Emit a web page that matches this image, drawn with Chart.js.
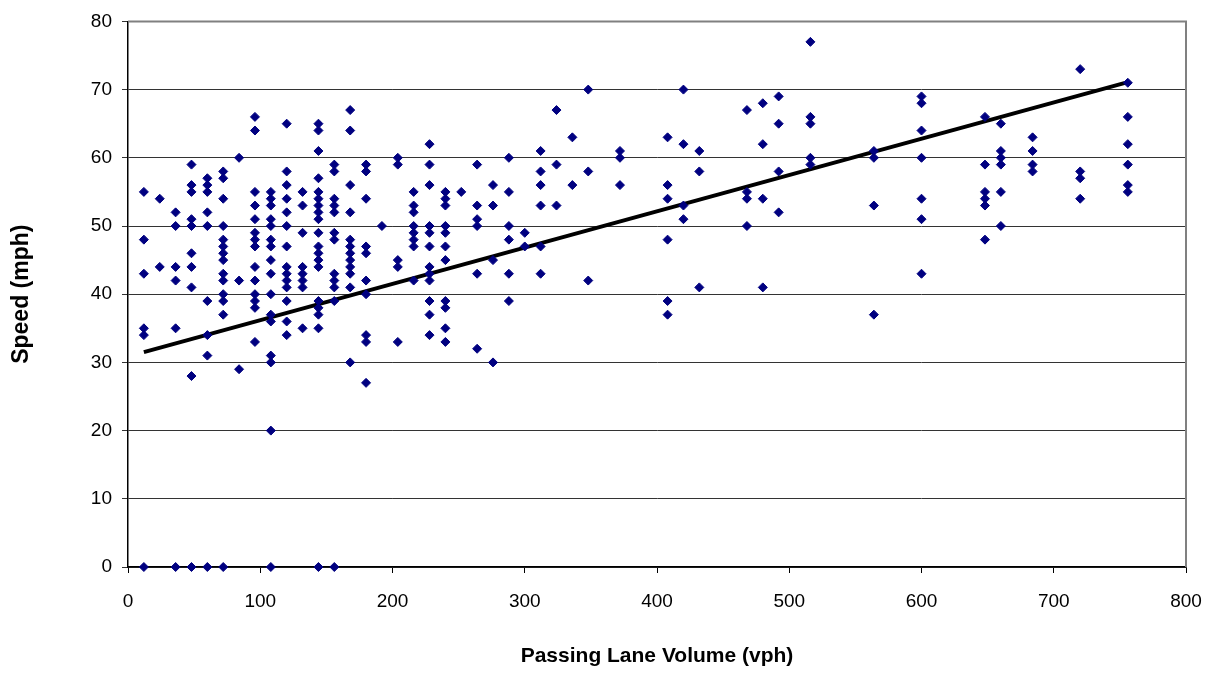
<!DOCTYPE html>
<html>
<head>
<meta charset="utf-8">
<script src="https://cdn.jsdelivr.net/npm/chart.js@4.4.0/dist/chart.umd.min.js"></script>
<style>
  body { margin: 0; background: #fff; }
  #wrap { width: 1212px; height: 673px; }
</style>
</head>
<body>
<div id="wrap"><canvas id="canvas" width="1212" height="673"></canvas></div>
<script>
// passing lane volume levels (vph) and the speeds (mph) observed at each
const volumes = [12, 24, 36, 48, 60, 72, 84, 96, 108, 120, 132, 144, 156, 168, 180, 192,
  204, 216, 228, 240, 252, 264, 276, 288, 300, 312, 324, 336, 348, 372, 408, 420, 432,
  468, 480, 492, 516, 564, 600, 648, 660, 684, 720, 756];
const speeds = [
  [55, 48, 43, 35, 34, 0],
  [54, 44],
  [52, 50, 44, 42, 35, 0],
  [59, 56, 55, 51, 50, 46, 44, 41, 28, 0],
  [57, 56, 55, 52, 50, 39, 34, 31, 0],
  [58, 57, 54, 50, 48, 47, 46, 45, 43, 42, 40, 39, 37, 0],
  [60, 42, 29],
  [66, 64, 55, 53, 51, 49, 48, 47, 44, 42, 40, 39, 38, 33],
  [55, 54, 53, 51, 50, 48, 47, 45, 43, 40, 37, 36, 31, 30, 20, 0],
  [65, 58, 56, 54, 52, 50, 47, 44, 43, 42, 41, 39, 36, 34],
  [55, 53, 49, 44, 43, 42, 41, 35],
  [65, 64, 61, 57, 55, 54, 53, 52, 51, 49, 47, 46, 45, 44, 39, 38, 37, 35, 0],
  [59, 58, 54, 53, 52, 49, 48, 43, 42, 41, 39, 0],
  [67, 64, 56, 52, 48, 47, 46, 45, 44, 43, 41, 30],
  [59, 58, 54, 47, 46, 42, 40, 34, 33, 27],
  [50],
  [60, 59, 45, 44, 33],
  [55, 53, 52, 50, 49, 48, 47, 42],
  [62, 59, 56, 50, 49, 47, 44, 43, 42, 39, 37, 34],
  [55, 54, 53, 50, 49, 47, 45, 39, 38, 35, 33],
  [55],
  [59, 53, 51, 50, 43, 32],
  [56, 53, 45, 30],
  [60, 55, 50, 48, 43, 39],
  [49, 47],
  [61, 58, 56, 53, 47, 43],
  [67, 59, 53],
  [63, 56],
  [70, 58, 42],
  [61, 60, 56],
  [63, 56, 54, 48, 39, 37],
  [70, 62, 53, 51],
  [61, 58, 41],
  [67, 55, 54, 50],
  [68, 62, 54, 41],
  [69, 65, 58, 52],
  [77, 66, 65, 60, 59],
  [61, 60, 53, 37],
  [69, 68, 64, 60, 54, 51, 43],
  [66, 59, 55, 54, 53, 48],
  [65, 61, 60, 59, 55, 50],
  [63, 61, 59, 58],
  [73, 58, 57, 54],
  [71, 66, 62, 59, 56, 55]
];

// linear trend line as drawn on the original (end points)
const trendX = [12, 756];
const trendY = [31.5, 71.1];

const points = [];
volumes.forEach((v, i) => speeds[i].forEach(s => points.push({x: v, y: s})));
const trend = trendX.map((x, i) => ({x: x, y: trendY[i]}));

const font = 'Liberation Sans, Arial, sans-serif';

const plotFrame = {
  id: 'plotFrame',
  beforeDatasetsDraw(chart) {
    const {ctx, chartArea: a} = chart;
    ctx.save();
    ctx.strokeStyle = '#808080';
    ctx.lineWidth = 2;
    ctx.beginPath();
    ctx.moveTo(a.left, a.top);
    ctx.lineTo(a.right, a.top);
    ctx.lineTo(a.right, a.bottom);
    ctx.stroke();
    ctx.restore();
  }
};

new Chart(document.getElementById('canvas'), {
  type: 'scatter',
  data: {
    datasets: [{
      data: points,
      pointStyle: 'rectRot',
      pointRadius: 4.5,
      pointHoverRadius: 4.5,
      backgroundColor: '#000080',
      borderColor: '#000080',
      borderWidth: 1,
      clip: false
    }, {
      type: 'line',
      data: trend,
      borderColor: '#000',
      borderWidth: 4,
      pointRadius: 0,
      fill: false
    }]
  },
  options: {
    responsive: false,
    devicePixelRatio: 1,
    animation: false,
    layout: { padding: { top: 21, right: 26, left: 0, bottom: 0 } },
    plugins: { legend: { display: false }, tooltip: { enabled: false } },
    scales: {
      x: {
        type: 'linear',
        min: 0, max: 800,
        afterFit(scale) {
          scale.height = 106;
          scale.paddingLeft = 0;
          scale.paddingRight = 0;
        },
        ticks: { stepSize: 100, color: '#000', padding: 17, maxRotation: 0, font: { family: font, size: 19 } },
        grid: { drawOnChartArea: false, drawTicks: true, tickLength: 6, color: '#000' },
        border: { color: '#000', width: 1.5 },
        title: { display: true, text: 'Passing Lane Volume (vph)', color: '#000',
          padding: { bottom: 4 }, font: { family: font, size: 21, weight: 'bold' } }
      },
      y: {
        min: 0, max: 80,
        afterFit(scale) { scale.width = 128; },
        ticks: { stepSize: 10, color: '#000', padding: 10, font: { family: font, size: 19 } },
        grid: { color: '#333', lineWidth: 1, tickLength: 6 },
        border: { color: '#000', width: 1.5 },
        title: { display: true, text: 'Speed (mph)', color: '#000',
          padding: { top: 8 }, font: { family: font, size: 23, weight: 'bold' } }
      }
    }
  },
  plugins: [plotFrame]
});
</script>
</body>
</html>
